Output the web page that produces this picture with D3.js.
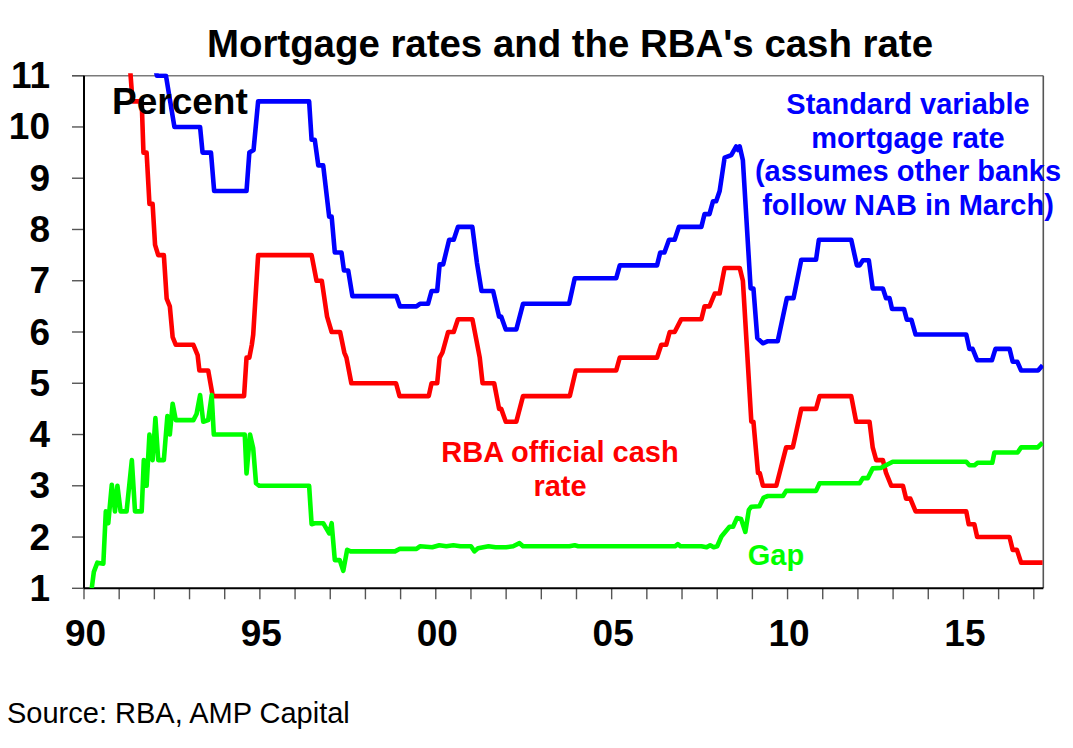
<!DOCTYPE html>
<html>
<head>
<meta charset="utf-8">
<script src="https://cdn.jsdelivr.net/npm/d3@7"></script>
<style>
  html, body { margin: 0; padding: 0; background: #fff; }
  svg { display: block; font-family: "Liberation Sans", Arial, Helvetica, sans-serif; }
</style>
</head>
<body>
<svg id="chart" width="1073" height="748"></svg>
<script>
// ---- Data (decimal year, percent) ----
const cashDates = [1990.22,1990.35,1990.62,1990.8,1990.97,1991.22,1991.27,1991.38,1991.64,1991.69,1991.78,1991.86,1991.95,1992.02,1992.11,1992.27,1992.35,1992.44,1992.52,1992.61,1993.11,1993.23,1993.28,1993.53,1993.66,1994.55,1994.62,1994.70,1994.77,1994.81,1994.95,1996.47,1996.61,1996.76,1996.91,1997.04,1997.28,1997.40,1997.46,1997.60,1998.87,1998.97,1999.80,1999.88,2000.04,2000.11,2000.19,2000.35,2000.51,2000.63,2001.04,2001.25,2001.33,2001.66,2001.80,2001.86,2001.99,2002.29,2002.48,2003.81,2003.98,2005.13,2005.23,2006.29,2006.41,2006.55,2006.65,2006.79,2006.98,2007.55,2007.64,2007.78,2007.93,2008.07,2008.21,2008.64,2008.73,2008.97,2009.03,2009.16,2009.21,2009.30,2009.68,2009.96,2010.15,2010.39,2010.81,2010.91,2011.81,2011.95,2012.33,2012.42,2012.52,2012.71,2012.80,2012.95,2013.28,2013.37,2013.49,2013.64,2015.08,2015.15,2015.31,2015.39,2016.31,2016.40,2016.52,2016.64,2017.25];
const cashValues = [16.5,15,14,13,12,12,11.5,10.5,10.5,9.5,9.5,8.5,8.5,7.7,7.5,7.5,6.65,6.5,5.9,5.75,5.75,5.55,5.25,5.25,4.75,4.75,5.5,5.5,5.75,5.95,7.5,7.5,7.0,7.0,6.3,6.0,6.0,5.6,5.5,5.0,5.0,4.75,4.75,5.0,5.0,5.5,5.6,6.0,6.0,6.25,6.25,5.5,5.0,5.0,4.5,4.5,4.25,4.25,4.75,4.75,5.25,5.25,5.5,5.5,5.75,5.75,6.0,6.0,6.25,6.25,6.5,6.5,6.75,6.75,7.25,7.25,7.0,4.25,4.25,3.25,3.25,3.0,3.0,3.75,3.75,4.5,4.5,4.75,4.75,4.25,4.25,3.75,3.5,3.5,3.25,3.0,3.0,2.75,2.75,2.5,2.5,2.25,2.25,2.0,2.0,1.75,1.75,1.5,1.5];

const mortDates = [1990.22,1990.6,1991.0,1991.4,1991.8,1992.07,1992.33,1992.45,1992.57,1993.30,1993.37,1993.61,1993.70,1994.62,1994.70,1994.82,1994.95,1996.40,1996.47,1996.56,1996.66,1996.80,1996.97,1997.04,1997.13,1997.32,1997.39,1997.51,1997.63,1998.88,1998.98,1999.45,1999.55,1999.78,1999.88,2000.04,2000.11,2000.21,2000.38,2000.51,2000.63,2001.04,2001.17,2001.30,2001.63,2001.80,2001.86,2001.99,2002.29,2002.48,2003.79,2003.95,2005.13,2005.23,2006.29,2006.38,2006.50,2006.63,2006.79,2006.91,2007.55,2007.64,2007.78,2007.88,2007.97,2008.07,2008.21,2008.40,2008.54,2008.59,2008.64,2008.73,2008.95,2009.03,2009.14,2009.30,2009.44,2009.72,2009.85,2009.98,2010.17,2010.39,2010.81,2010.89,2011.81,2011.97,2012.05,2012.14,2012.31,2012.42,2012.71,2012.80,2012.90,2012.97,2013.31,2013.39,2013.52,2013.64,2015.08,2015.17,2015.26,2015.39,2015.81,2015.91,2016.31,2016.40,2016.53,2016.64,2017.12,2017.25];
const mortValues = [17,16.5,15,13.5,12,11,11,10.5,10.0,10.0,9.5,9.5,8.75,8.75,9.5,9.55,10.5,10.5,9.75,9.75,9.25,9.25,8.25,8.25,7.55,7.55,7.2,7.2,6.7,6.7,6.5,6.5,6.55,6.55,6.8,6.8,7.32,7.32,7.8,7.8,8.05,8.05,7.35,6.8,6.8,6.3,6.3,6.05,6.05,6.55,6.55,7.05,7.05,7.3,7.3,7.55,7.55,7.8,7.8,8.05,8.05,8.3,8.3,8.55,8.55,8.75,9.4,9.45,9.62,9.55,9.62,9.35,6.85,6.85,5.88,5.78,5.82,5.82,6.24,6.66,6.66,7.41,7.41,7.8,7.8,7.3,7.3,7.4,7.4,6.85,6.85,6.66,6.66,6.45,6.45,6.24,6.24,5.95,5.95,5.67,5.67,5.45,5.45,5.67,5.67,5.42,5.42,5.25,5.25,5.35];

const gapDates = [1990.22,1990.28,1990.38,1990.55,1990.62,1990.69,1990.79,1990.88,1990.95,1991.04,1991.21,1991.36,1991.45,1991.64,1991.70,1991.78,1991.86,1991.95,1992.03,1992.11,1992.27,1992.37,1992.44,1992.52,1992.61,1993.11,1993.20,1993.30,1993.39,1993.53,1993.63,1993.69,1994.57,1994.62,1994.72,1994.81,1994.89,1994.98,1996.40,1996.47,1996.56,1996.80,1996.97,1997.04,1997.13,1997.27,1997.37,1997.48,1997.58,1998.84,1998.98,1999.45,1999.55,1999.9,2000.1,2000.3,2000.5,2000.7,2001.0,2001.1,2001.2,2001.5,2001.7,2002.0,2002.2,2002.38,2002.48,2003.8,2003.95,2004.05,2005.1,2006.3,2006.8,2006.88,2006.96,2007.55,2007.7,2007.8,2007.9,2008.0,2008.12,2008.35,2008.45,2008.56,2008.68,2008.80,2008.90,2008.97,2009.20,2009.32,2009.44,2009.87,2009.96,2010.81,2010.91,2012.05,2012.14,2012.28,2012.42,2012.66,2012.99,2015.08,2015.17,2015.31,2015.41,2015.82,2015.88,2016.54,2016.64,2017.11,2017.25];
const gapValues = [1.0,1.32,1.5,1.48,2.5,2.27,3.02,2.5,3.0,2.5,2.5,3.5,2.5,2.5,3.5,3.0,4.0,3.5,4.32,3.5,3.5,4.36,4.0,4.6,4.28,4.28,4.4,4.77,4.25,4.28,4.77,4.0,4.0,3.24,4.0,3.73,3.05,3.0,3.0,2.25,2.27,2.27,2.07,2.27,1.55,1.55,1.34,1.75,1.72,1.72,1.77,1.77,1.82,1.8,1.84,1.82,1.84,1.82,1.82,1.72,1.78,1.82,1.8,1.8,1.82,1.88,1.82,1.82,1.84,1.82,1.82,1.82,1.82,1.86,1.82,1.82,1.8,1.84,1.8,1.82,2.01,2.2,2.2,2.37,2.35,2.1,2.53,2.59,2.6,2.77,2.8,2.8,2.9,2.9,3.05,3.05,3.15,3.15,3.34,3.35,3.47,3.47,3.4,3.4,3.45,3.45,3.65,3.65,3.75,3.75,3.84];

const yTicks = [1,2,3,4,5,6,7,8,9,10,11];
const xLabelYears = [1990,1995,2000,2005,2010,2015];
const xLabels = ["90","95","00","05","10","15"];
const title = "Mortgage rates and the RBA's cash rate";
const mortLabel = ["Standard variable","mortgage rate","(assumes other banks","follow NAB in March)"];
const cashLabel = ["RBA official cash","rate"];
const gapLabel = "Gap";
const source = "Source: RBA, AMP Capital";

// ---- Layout ----
const L = 84, R = 1043.3, T = 75.7, B = 588.3;
const x = d3.scaleLinear().domain([1990, 2017.27]).range([L, R]);
const y = d3.scaleLinear().domain([1, 11]).range([B, T]);

const svg = d3.select("#chart");

svg.append("defs").append("clipPath").attr("id", "clip")
  .append("rect").attr("x", L).attr("y", T - 2.5).attr("width", R - L).attr("height", B - T + 2.5);

// gridframe: top and right border (grey)
svg.append("line").attr("x1", 72).attr("x2", R).attr("y1", T).attr("y2", T)
  .attr("stroke", "#7a7a7a").attr("stroke-width", 1.6);
svg.append("line").attr("x1", R).attr("x2", R).attr("y1", T).attr("y2", B)
  .attr("stroke", "#555").attr("stroke-width", 1.6);

// y ticks
svg.append("g").selectAll("line").data(yTicks).join("line")
  .attr("x1", 72).attr("x2", L).attr("y1", d => y(d)).attr("y2", d => y(d))
  .attr("stroke", "#555").attr("stroke-width", 1.4);
svg.append("g").selectAll("text").data(yTicks).join("text")
  .attr("x", 50).attr("y", d => y(d) + 12.5)
  .attr("text-anchor", "end").attr("font-weight", "bold").attr("font-size", 37)
  .attr("fill", "#000").text(d => d);

// x ticks every year
const years = d3.range(1990, 2018);
svg.append("g").selectAll("line").data(years).join("line")
  .attr("x1", d => x(d)).attr("x2", d => x(d)).attr("y1", B).attr("y2", B + 11)
  .attr("stroke", "#555").attr("stroke-width", 1.4);
svg.append("g").selectAll("text").data(xLabelYears).join("text")
  .attr("x", d => x(d) + 1.5).attr("y", 646)
  .attr("text-anchor", "middle").attr("font-weight", "bold").attr("font-size", 37)
  .attr("fill", "#000").text((d, i) => xLabels[i]);

// axes lines
svg.append("line").attr("x1", L).attr("x2", L).attr("y1", T).attr("y2", B)
  .attr("stroke", "#000").attr("stroke-width", 2);
svg.append("line").attr("x1", L).attr("x2", R).attr("y1", B).attr("y2", B)
  .attr("stroke", "#000").attr("stroke-width", 2);

// series
const line = d3.line().x(d => x(d[0])).y(d => y(d[1]));
const series = [
  { dates: mortDates, values: mortValues, color: "#0000ff" },
  { dates: cashDates, values: cashValues, color: "#ff0000" },
  { dates: gapDates, values: gapValues, color: "#00ff00" }
];
const gLines = svg.append("g").attr("clip-path", "url(#clip)");
series.forEach(s => {
  const pts = s.dates.map((d, i) => [d, s.values[i]]);
  gLines.append("path").datum(pts).attr("d", line)
    .attr("fill", "none").attr("stroke", s.color).attr("stroke-width", 4.6)
    .attr("stroke-linejoin", "round").attr("stroke-linecap", "butt");
});

// title
svg.append("text").attr("x", 570).attr("y", 57).attr("text-anchor", "middle")
  .attr("font-weight", "bold").attr("font-size", 38).attr("fill", "#000")
  .attr("textLength", 726).attr("lengthAdjust", "spacingAndGlyphs")
  .text(title);

// "Percent"
svg.append("text").attr("x", 112).attr("y", 113.5)
  .attr("font-weight", "bold").attr("font-size", 37).attr("fill", "#000").text("Percent");

// series labels
svg.append("g").selectAll("text").data(mortLabel).join("text")
  .attr("x", 908).attr("y", (d, i) => 114 + i * 33.5).attr("text-anchor", "middle")
  .attr("font-weight", "bold").attr("font-size", 29).attr("fill", "#0000ff").text(d => d);
svg.append("g").selectAll("text").data(cashLabel).join("text")
  .attr("x", 560).attr("y", (d, i) => 462 + i * 33.5).attr("text-anchor", "middle")
  .attr("font-weight", "bold").attr("font-size", 29).attr("fill", "#ff0000").text(d => d);
svg.append("text").attr("x", 776).attr("y", 565).attr("text-anchor", "middle")
  .attr("font-weight", "bold").attr("font-size", 29).attr("fill", "#00ff00").text(gapLabel);

// source
svg.append("text").attr("x", 7).attr("y", 723).attr("font-size", 29).attr("fill", "#000").text(source);
</script>
</body>
</html>
